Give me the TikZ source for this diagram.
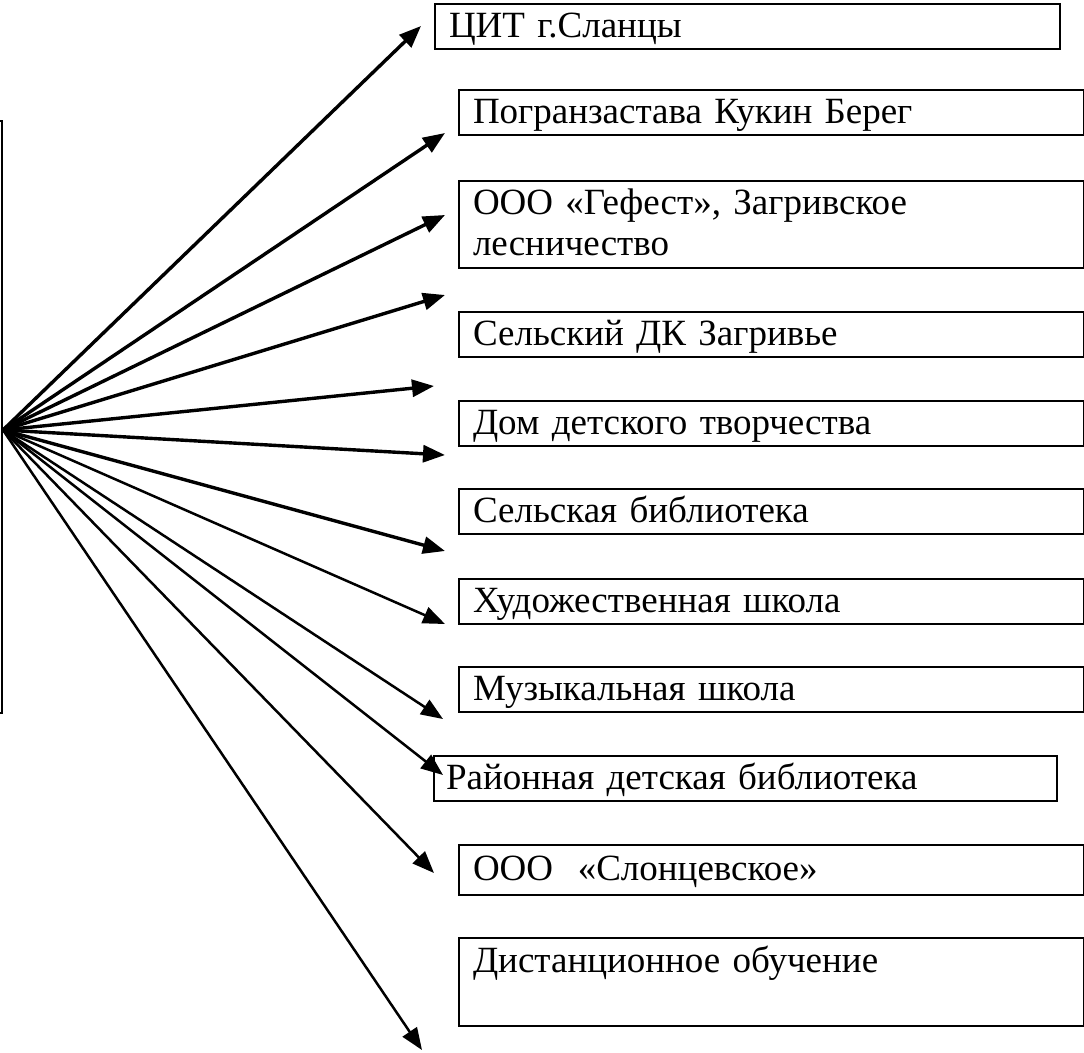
\documentclass[tikz,border=0pt]{standalone}
\usepackage{fontspec}
\setmainfont{Liberation Serif}
\usetikzlibrary{arrows.meta}

\tikzset{
  orgbox/.style={draw, line width=2pt, anchor=north west, minimum width=625pt,
    minimum height=45pt, text width=597pt, align=left, inner xsep=14pt, inner ysep=0pt,
    text height=28pt, text depth=7pt, font=\fontsize{37}{41}\selectfont},
  twoline/.style={text depth=48pt},
  fanarrow/.style={line width=3.4pt, -{Triangle[length=22pt,width=17pt]}},
  thinarrow/.style={line width=2.5pt, -{Triangle[length=22pt,width=17pt]}}
}

\begin{document}
\begin{tikzpicture}[x=1pt,y=-1pt]
\useasboundingbox (0,0) rectangle (1084,1052);

\node[draw, line width=2pt, minimum width=300pt, minimum height=592pt, anchor=north east] (school) at (3,120) {};
\coordinate (hub) at (3,430);

\node[orgbox, minimum width=623pt] (cit) at (434,3) {ЦИТ г.Сланцы};
\node[orgbox] (border) at (458,89) {Погранзастава Кукин Берег};
\node[orgbox, twoline, minimum height=87pt] (gefest) at (458,180) {ООО «Гефест», Загривское\\лесничество};
\node[orgbox] (dk) at (458,311) {Сельский ДК Загривье};
\node[orgbox] (ddt) at (458,400) {Дом детского творчества};
\node[orgbox] (vlib) at (458,488) {Сельская библиотека};
\node[orgbox] (art) at (458,578) {Художественная школа};
\node[orgbox] (music) at (458,666) {Музыкальная школа};
\node[orgbox, minimum width=623pt, inner xsep=12pt, text width=599pt] (rlib) at (433,755) {Районная детская библиотека};
\node[orgbox, minimum height=50pt] (slon) at (458,844) {ООО\ \ «Слонцевское»};
\node[orgbox, twoline, minimum height=88pt] (dist) at (458,937) {Дистанционное обучение\\\mbox{}};

% free ends of the arrows
\coordinate (a1) at (421,26);
\coordinate (a2) at (445,133);
\coordinate (a3) at (445,215);
\coordinate (a4) at (445,295);
\coordinate (a5) at (434,386);
\coordinate (a6) at (445,455);
\coordinate (a7) at (445,551);
\coordinate (a8) at (445,624);
\coordinate (a9) at (443,719);
\coordinate (a10) at (443,775);
\coordinate (a11) at (434,873);
\coordinate (a12) at (422,1050);

\draw[fanarrow] (hub) -- (a1);
\draw[fanarrow] (hub) -- (a2);
\draw[fanarrow] (hub) -- (a3);
\draw[fanarrow] (hub) -- (a4);
\draw[fanarrow] (hub) -- (a5);
\draw[fanarrow] (hub) -- (a6);
\draw[fanarrow] (hub) -- (a7);
\draw[thinarrow] (hub) -- (a8);
\draw[thinarrow] (hub) -- (a9);
\draw[thinarrow] (hub) -- (a10);
\draw[thinarrow] (hub) -- (a11);
\draw[thinarrow] (hub) -- (a12);

\end{tikzpicture}
\end{document}
